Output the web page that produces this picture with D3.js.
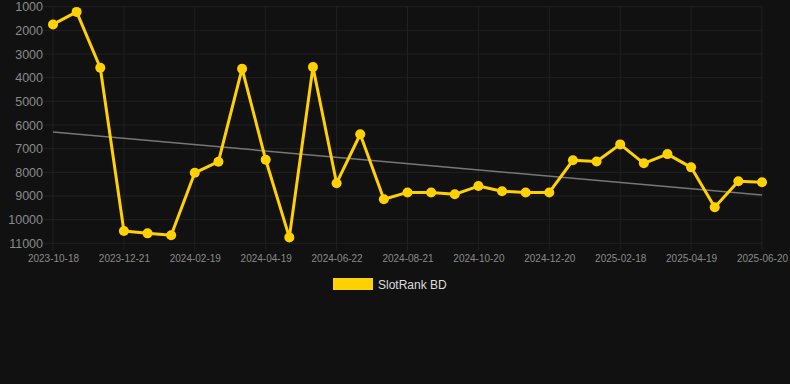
<!DOCTYPE html>
<html><head><meta charset="utf-8">
<script src="https://cdn.jsdelivr.net/npm/d3@7"></script>
<style>
html,body{margin:0;padding:0;background:#111111;}
svg{display:block;}
</style></head>
<body>
<svg id="chart" width="790" height="384"></svg>
<script>
const dates = ["2023-10-18","2023-11-07","2023-11-28","2023-12-21","2024-01-09","2024-01-30","2024-02-19","2024-03-10","2024-03-30","2024-04-19","2024-05-10","2024-06-01","2024-06-22","2024-07-12","2024-08-01","2024-08-21","2024-09-10","2024-09-30","2024-10-20","2024-11-09","2024-11-30","2024-12-20","2025-01-09","2025-01-29","2025-02-18","2025-03-10","2025-03-30","2025-04-19","2025-05-10","2025-05-31","2025-06-20"];
const ranks = [1750,1220,3580,10480,10580,10660,8020,7550,3620,7470,10750,3550,8460,6390,9140,8850,8850,8930,8580,8800,8850,8850,7490,7540,6820,7620,7230,7790,9480,8380,8420];
const tickLabels = ["2023-10-18","2023-12-21","2024-02-19","2024-04-19","2024-06-22","2024-08-21","2024-10-20","2024-12-20","2025-02-18","2025-04-19","2025-06-20"];
const yTicks = [1000,2000,3000,4000,5000,6000,7000,8000,9000,10000,11000];
const trendEnds = [6300, 8960];
const seriesName = "SlotRank BD";

(function () {
const svg = d3.select("#chart");
const pLeft = 53, pRight = 762, pTop = 6.7, pBottom = 243.3;
const x = d3.scalePoint().domain(dates).range([pLeft, pRight]);
const y = d3.scaleLinear().domain([1000, 11000]).range([pTop, pBottom]);

const grid = "#202020";
svg.append("g").selectAll("line").data(yTicks).join("line")
  .attr("x1", 43).attr("x2", pRight).attr("y1", d => y(d)).attr("y2", d => y(d))
  .attr("stroke", grid).attr("stroke-width", 1);
svg.append("g").selectAll("line").data(tickLabels).join("line")
  .attr("x1", d => x(d)).attr("x2", d => x(d)).attr("y1", pTop).attr("y2", pBottom + 7)
  .attr("stroke", grid).attr("stroke-width", 1);

const yAxis = d3.axisLeft(y).tickValues(yTicks).tickSize(0).tickPadding(0).tickFormat(d3.format("d"));
const gy = svg.append("g").attr("transform", "translate(43,0)").call(yAxis);
gy.select(".domain").remove();
gy.selectAll("text").attr("fill", "#8a8a8a").attr("font-family", "Liberation Sans, Arial, sans-serif").attr("font-size", "12.5px");

const xAxis = d3.axisBottom(x).tickValues(tickLabels).tickSize(0).tickPadding(0);
const gx = svg.append("g").attr("transform", `translate(0,${pBottom + 12})`).call(xAxis);
gx.select(".domain").remove();
gx.selectAll("text").attr("fill", "#8a8a8a").attr("font-family", "Liberation Sans, Arial, sans-serif").attr("font-size", "10px");

svg.append("line")
  .attr("x1", x(dates[0])).attr("x2", x(dates[dates.length - 1]))
  .attr("y1", y(trendEnds[0])).attr("y2", y(trendEnds[1]))
  .attr("stroke", "#777777").attr("stroke-width", 1.5);

const color = "#FFD100";
svg.append("path").datum(ranks.map((v, i) => [dates[i], v]))
  .attr("fill", "none").attr("stroke", color).attr("stroke-width", 3).attr("stroke-linejoin", "round")
  .attr("d", d3.line().x(d => x(d[0])).y(d => y(d[1])));

svg.append("g").selectAll("circle").data(ranks).join("circle")
  .attr("cx", (d, i) => x(dates[i])).attr("cy", d => y(d)).attr("r", 5)
  .attr("fill", color);

const lg = svg.append("g");
lg.append("rect").attr("x", 333).attr("y", 278).attr("width", 40).attr("height", 12).attr("fill", color);
lg.append("text").attr("x", 378).attr("y", 288.5).text(seriesName)
  .attr("fill", "#dddddd").attr("font-family", "Liberation Sans, Arial, sans-serif").attr("font-size", "12px");
})();
</script>
</body></html>
